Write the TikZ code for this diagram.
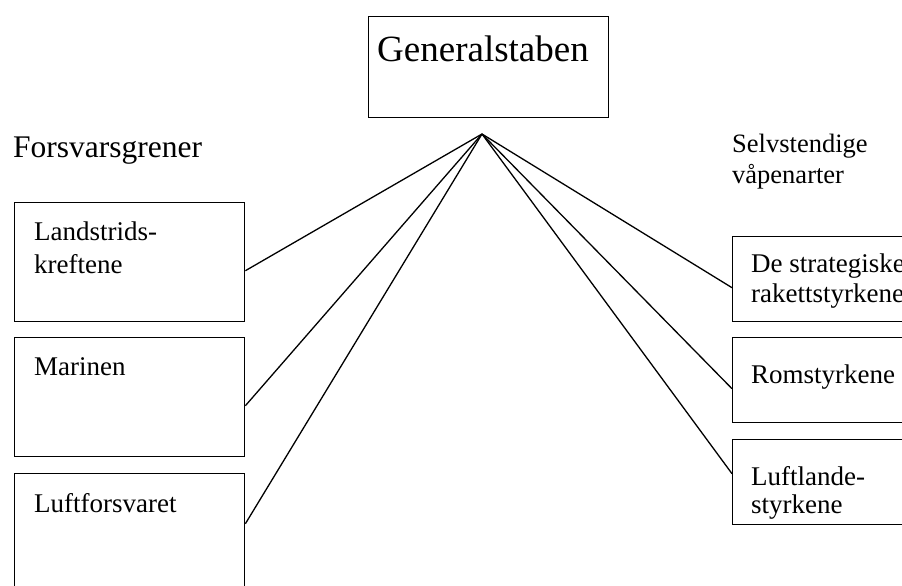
\documentclass[tikz,border=0pt]{standalone}
\usepackage{fontspec}
\setmainfont{Liberation Serif}
\begin{document}
\begin{tikzpicture}[x=1pt,y=-1pt,
  box/.style={draw=black,line width=1.4pt,inner sep=0pt,anchor=north west},
  lbl/.style={inner sep=0pt,anchor=base west,align=left,font=\fontsize{27}{31}\selectfont},
  conn/.style={draw=black,line width=1.3pt}]
\useasboundingbox[fill=white] (0,0) rectangle (902,586);
% boxes
\node[box,minimum width=240pt,minimum height=101pt] (gen) at (368,16) {};
\node[box,minimum width=230pt,minimum height=119pt] (land) at (14,202) {};
\node[box,minimum width=230pt,minimum height=119pt] (mar) at (14,337) {};
\node[box,minimum width=230pt,minimum height=127pt] (luft) at (14,473) {};
\node[box,minimum width=180pt,minimum height=85pt] (strat) at (732,236) {};
\node[box,minimum width=180pt,minimum height=85pt] (rom) at (732,337) {};
\node[box,minimum width=180pt,minimum height=85pt] (luftl) at (732,439) {};
% texts (base anchor = last line)
\node[inner sep=0pt,anchor=base west,font=\fontsize{37}{40}\selectfont] (tgen) at (377,62) {Generalstaben};
\node[inner sep=0pt,anchor=base west,font=\fontsize{31.5}{36}\selectfont] (tfor) at (13,157) {Forsvarsgrener};
\node[lbl,font=\fontsize{26.5}{31}\selectfont] (tsel) at (732,183) {Selvstendige\\våpenarter};
\node[lbl,font=\fontsize{27}{33}\selectfont] (tland) at (34,273) {Landstrids-\\kreftene};
\node[lbl] (tmar) at (34,375) {Marinen};
\node[lbl] (tluft) at (34,512) {Luftforsvaret};
\node[lbl,font=\fontsize{27}{30}\selectfont] (tstrat) at (751,302) {De strategiske\\rakettstyrkene};
\node[lbl] (trom) at (751,383) {Romstyrkene};
\node[lbl,font=\fontsize{27}{28}\selectfont] (tluftl) at (751,513) {Luftlande-\\styrkene};
% connectors
\coordinate (apex) at (482,134);
\draw[conn] (apex) -- ([yshift=-8.5pt]land.east);
\draw[conn] (apex) -- ([yshift=-8.5pt]mar.east);
\draw[conn] (apex) -- ([yshift=13.5pt]luft.east);
\draw[conn] (apex) -- ([yshift=-8.5pt]strat.west);
\draw[conn] (apex) -- ([yshift=-8.5pt]rom.west);
\draw[conn] (apex) -- ([yshift=8.5pt]luftl.west);
\end{tikzpicture}
\end{document}
